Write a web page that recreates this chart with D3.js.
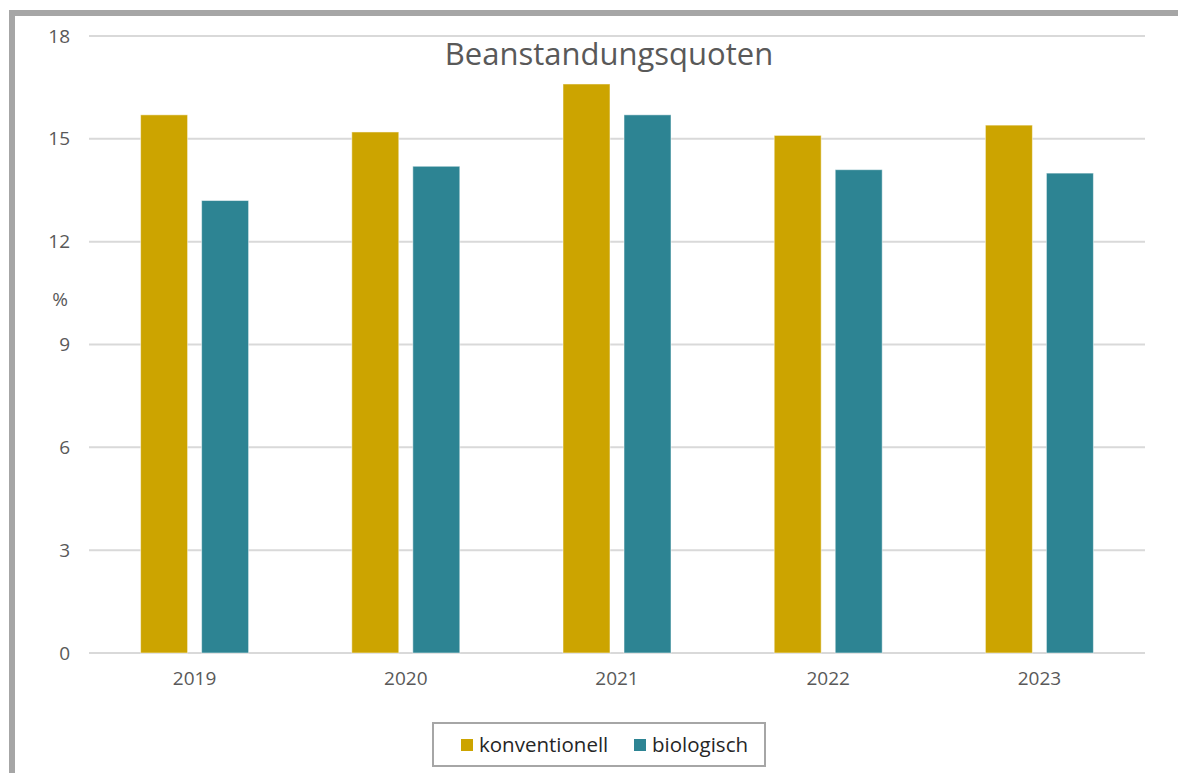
<!DOCTYPE html>
<html><head><meta charset="utf-8">
<script src="https://cdn.jsdelivr.net/npm/d3@7"></script>
<style>html,body{margin:0;padding:0;background:#fff;}svg{display:block;}</style>
</head><body>
<svg id="chart" width="1178" height="773"></svg>
<script>
const years = ["2019","2020","2021","2022","2023"];
const konventionell = [15.7, 15.2, 16.6, 15.1, 15.4];
const biologisch = [13.2, 14.2, 15.7, 14.1, 14.0];
const seriesNames = ["konventionell","biologisch"];
const seriesColors = ["#CCA400","#2D8493"];
const yTicks = [0,3,6,9,12,15,18];
const titleText = "Beanstandungsquoten";
const yLabel = "%";

(function(){
const svg = d3.select("#chart");
const font = "'Open Sans', Lato, sans-serif";
const textColor = "#595959";

// frame
svg.append("rect").attr("x",12).attr("y",13).attr("width",1200).attr("height",800)
  .attr("fill","none").attr("stroke","#a6a6a6").attr("stroke-width",6);

const mL=89, mR=1145, mT=36, mB=653;
const x = d3.scaleBand().domain(years).range([mL,mR]).paddingInner(0).paddingOuter(0);
const y = d3.scaleLinear().domain([0,18]).range([mB,mT]);

// gridlines
svg.append("g").selectAll("line").data(yTicks).join("line")
  .attr("x1",mL).attr("x2",mR)
  .attr("y1",d=>y(d)).attr("y2",d=>y(d))
  .attr("stroke","#d9d9d9").attr("stroke-width",2);

// y axis labels
const yAxis = d3.axisLeft(y).tickValues(yTicks).tickSize(0).tickPadding(0);
const yg = svg.append("g").attr("transform","translate(70,0)").call(yAxis);
yg.select(".domain").remove();
yg.selectAll("text").attr("font-family",font).attr("font-size",19).attr("fill",textColor);

// x axis labels
const xAxis = d3.axisBottom(x).tickSize(0).tickPadding(0);
const xg = svg.append("g").attr("transform",`translate(0,${mB+18})`).call(xAxis);
xg.select(".domain").remove();
xg.selectAll("text").attr("font-family",font).attr("font-size",19).attr("fill",textColor);

// bars
const inner = d3.scaleBand().domain(seriesNames).range([0,108]).paddingInner(0.23).paddingOuter(0);
const data = [konventionell, biologisch];
seriesNames.forEach((s,i)=>{
  svg.append("g").selectAll("rect").data(years).join("rect")
    .attr("x",d=>x(d)+x.bandwidth()/2-54+inner(s))
    .attr("y",(d,j)=>y(data[i][j]))
    .attr("width",inner.bandwidth())
    .attr("height",(d,j)=>y(0)-y(data[i][j]))
    .attr("fill",seriesColors[i])
    .attr("stroke","rgba(255,255,255,0.5)").attr("stroke-width",1);
});

// title
svg.append("text").attr("x",609).attr("y",65).attr("text-anchor","middle")
  .attr("font-family",font).attr("font-size",31).attr("fill",textColor).text(titleText);

// y label
svg.append("text").attr("x",60).attr("y",306).attr("text-anchor","middle")
  .attr("font-family",font).attr("font-size",19).attr("fill",textColor).text(yLabel);

// legend
const lg = svg.append("g");
lg.append("rect").attr("x",433).attr("y",723).attr("width",332).attr("height",43)
  .attr("fill","#fff").attr("stroke","#a6a6a6").attr("stroke-width",2);
const legX = [461, 634];
seriesNames.forEach((s,i)=>{
  lg.append("rect").attr("x",legX[i]).attr("y",739).attr("width",12).attr("height",12).attr("fill",seriesColors[i]);
  lg.append("text").attr("x",legX[i]+18).attr("y",752).attr("font-family",font).attr("font-size",20.5)
    .attr("fill","#262626").text(s);
});
})();
</script>
</body></html>
